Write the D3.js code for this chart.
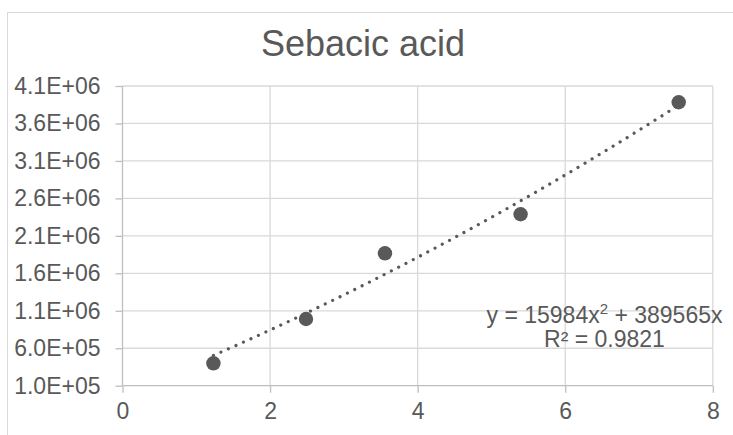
<!DOCTYPE html>
<html>
<head>
<meta charset="utf-8">
<script src="https://cdn.jsdelivr.net/npm/d3@7"></script>
<style>
  html, body { margin: 0; padding: 0; background: #ffffff; }
  svg { display: block; font-family: "Liberation Sans", Arial, sans-serif; }
</style>
</head>
<body>
<svg id="chart" width="733" height="435"></svg>
<script>
// ---- Data ----
const chartTitle = "Sebacic acid";
const xValues = [1.232, 2.487, 3.557, 5.395, 7.538];
const yValues = [399000, 990000, 1867000, 2388000, 3883000];
const xTicks = [0, 2, 4, 6, 8];
const xTickLabels = ["0", "2", "4", "6", "8"];
const yTicks = [100000, 600000, 1100000, 1600000, 2100000, 2600000, 3100000, 3600000, 4100000];
const yTickLabels = ["1.0E+05", "6.0E+05", "1.1E+06", "1.6E+06", "2.1E+06", "2.6E+06", "3.1E+06", "3.6E+06", "4.1E+06"];
const trendCoefA = 15984;   // x^2 coefficient
const trendCoefB = 389565;  // x coefficient
const trendR2 = "0.9821";

// ---- Layout ----
const svg = d3.select("#chart");
const W = 733, H = 435;
const textColor = "#595959";
const gridColor = "#d9d9d9";
const axisColor = "#bfbfbf";

// chart border
svg.append("rect")
  .attr("x", 7.5).attr("y", 12.5)
  .attr("width", W + 20).attr("height", H + 20)
  .attr("fill", "#fff").attr("stroke", gridColor).attr("stroke-width", 1);

const x = d3.scaleLinear().domain([0, 8]).range([122.5, 712.8]);
const y = d3.scaleLinear().domain([100000, 4100000]).range([385.7, 86]);

// gridlines
const g = svg.append("g");
g.selectAll("line.hgrid").data(yTicks.slice(1)).enter().append("line")
  .attr("x1", x(0)).attr("x2", x(8))
  .attr("y1", d => y(d)).attr("y2", d => y(d))
  .attr("stroke", gridColor).attr("stroke-width", 1.3);
g.selectAll("line.vgrid").data(xTicks.slice(1)).enter().append("line")
  .attr("x1", d => x(d)).attr("x2", d => x(d))
  .attr("y1", y(4100000)).attr("y2", y(100000))
  .attr("stroke", gridColor).attr("stroke-width", 1.3);

// axes
const yAxis = d3.axisLeft(y).tickValues(yTicks)
  .tickFormat((d, i) => yTickLabels[i]).tickSize(7).tickPadding(15);
const yG = svg.append("g").attr("transform", `translate(${x(0)},0)`).call(yAxis);
const xAxis = d3.axisBottom(x).tickValues(xTicks)
  .tickFormat((d, i) => xTickLabels[i]).tickSize(7).tickPadding(10);
const xG = svg.append("g").attr("transform", `translate(0,${y(100000)})`).call(xAxis);

[yG, xG].forEach(a => {
  a.select(".domain").attr("stroke", axisColor).attr("stroke-width", 1.3);
  a.selectAll(".tick line").attr("stroke", axisColor).attr("stroke-width", 1.3);
  a.selectAll(".tick text").attr("fill", textColor)
    .style("font-size", "23px").style("font-family", "'Liberation Sans', Arial, sans-serif");
});
yG.select(".domain").attr("d", `M0,${y(4100000)}V${y(100000)}`);
xG.select(".domain").attr("d", `M${x(0)},0H${x(8)}`);

// trendline
const x0 = d3.min(xValues), x1 = d3.max(xValues);
const trendPts = d3.range(0, 101).map(i => {
  const xv = x0 + (x1 - x0) * i / 100;
  return [xv, trendCoefA * xv * xv + trendCoefB * xv];
});
svg.append("path")
  .datum(trendPts)
  .attr("d", d3.line().x(d => x(d[0])).y(d => y(d[1])))
  .attr("fill", "none").attr("stroke", textColor)
  .attr("stroke-width", 3.2).attr("stroke-linecap", "round")
  .attr("stroke-dasharray", "0.01 8.2");

// points
svg.selectAll("circle.pt").data(xValues).enter().append("circle")
  .attr("cx", d => x(d)).attr("cy", (d, i) => y(yValues[i]))
  .attr("r", 7.2).attr("fill", textColor);

// title
svg.append("text")
  .attr("x", 363).attr("y", 56)
  .attr("text-anchor", "middle")
  .attr("fill", textColor)
  .style("font-size", "36px")
  .text(chartTitle);

// trendline label
const lbl = svg.append("text").attr("text-anchor", "middle").attr("fill", textColor).style("font-size", "23px");
const t1 = lbl.append("tspan").attr("x", 604.5).attr("y", 323.3);
t1.append("tspan").text(`y = ${trendCoefA}x`);
t1.append("tspan").attr("dy", -9).style("font-size", "15px").text("2");
t1.append("tspan").attr("dy", 9).text(` + ${trendCoefB}x`);
lbl.append("tspan").attr("x", 604.5).attr("y", 347.3).text(`R² = ${trendR2}`);
</script>
</body>
</html>
